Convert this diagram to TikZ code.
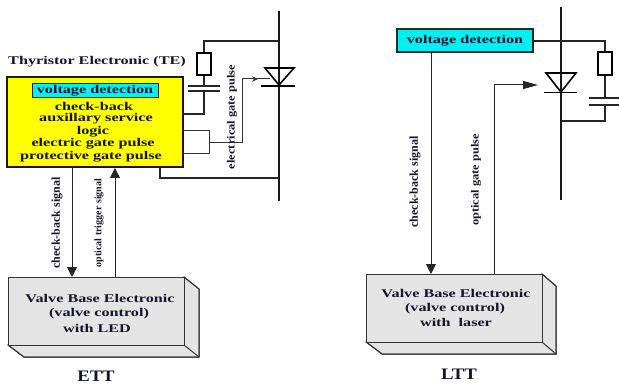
\documentclass[tikz,border=0pt]{standalone}
\usepackage{fontspec}
\usepackage{graphicx}
\setmainfont{Liberation Serif}
\usetikzlibrary{arrows.meta}
\definecolor{inkc}{HTML}{14142E}
\definecolor{boxg}{HTML}{E4E4E4}
\definecolor{cyanb}{HTML}{00F0F0}
\definecolor{yel}{HTML}{FFFF00}
\newcommand{\Wd}[1]{\scalebox{1.37}[1]{#1}}
\tikzset{
 x=1pt,y=-1pt,
 wire/.style={line width=1.4pt,black!85},
 thin wire/.style={line width=1pt,black!80},
 sig/.style={line width=1pt,black!85},
 bigarrow/.style={-{Triangle[length=10pt,width=10pt]}},
 txt/.style={font=\bfseries\fontsize{11.8}{11.8}\selectfont,text=inkc,inner sep=0pt,xscale=1.37},
 vtxt/.style={font=\bfseries\fontsize{12}{12}\selectfont,text=inkc,rotate=90,inner sep=0pt},
 vsmall/.style={font=\bfseries\fontsize{11}{11}\selectfont,text=inkc,rotate=90,inner sep=0pt,xscale=1.13},
 vtrig/.style={font=\bfseries\fontsize{10}{10}\selectfont,text=inkc,rotate=90,inner sep=0pt},
 bigl/.style={font=\bfseries\fontsize{16}{16}\selectfont,text=inkc,inner sep=0pt,xscale=1.17},
 front/.style={draw=black!80,line width=1pt,fill=boxg},
 part/.style={draw=black,line width=1.6pt,fill=white},
 cy/.style={draw=black!85,fill=cyanb,line width=1pt,inner sep=0pt,font=\bfseries\fontsize{11.8}{11.8}\selectfont,text=inkc},
}
\begin{document}
\begin{tikzpicture}
\useasboundingbox (0,0) rectangle (619,385);
% --- ETT ---
\node[txt] (tetitle) at (97,61.5) {Thyristor Electronic (TE)};
\node[draw=black!90,fill=yel,line width=1.6pt,minimum width=176pt,minimum height=90pt,inner sep=0pt] (te) at (95,122) {};
\node[cy,minimum width=126pt,minimum height=14pt] (vd1) at (95,90.5) {\Wd{voltage detection}};
\node[txt] (t1) at (94,106.5) {check-back};
\node[txt] (t2) at (96,119) {auxillary service};
\node[txt] (t3) at (93,131.5) {logic};
\node[txt] (t4) at (93,144) {electric gate pulse};
\node[txt] (t5) at (91,157) {protective gate pulse};
% thyristor branch
\coordinate (b1t) at (279,11); \coordinate (b1b) at (279,201);
\draw[line width=1.8pt,black!90] (b1t) -- (b1b);
\coordinate (r1t) at (204,41);
\coordinate (r1j) at (279,41);
\draw[wire] (r1j) -- (r1t) -- (204,53);
\node[part,minimum width=14pt,minimum height=22pt,inner sep=0pt] (r1) at (204,64) {};
\draw[wire] (r1.south) -- (204,86);
\draw[wire] (188,86) -- (220,86);
\draw[wire] (188,91) -- (220,91);
\coordinate (c1o) at (183,114);
\draw[wire] (204,91) -- (204,114) -- (c1o);
\draw[line width=1.6pt,black] (265,68) -- (294,68) -- (279,85) -- cycle;
\draw[line width=1.6pt,black] (261,86) -- (295,86);
\coordinate (g1) at (270,79);
\coordinate (g1a) at (258,79);
\coordinate (g1b) at (249,79);
\draw[thin wire] (209,143) -- (242,143) -- (242,79) -- (g1);
\draw[thin wire,-{Stealth[length=6pt,width=5.5pt]}] (g1b) -- (g1a);
\draw[thin wire] (183,131) -- (209,131) -- (209,154) -- (183,154);
\draw[wire] (160,168) -- (160,178) -- (279,178);
\node[vsmall] (egp) at (232,117) {electrical gate pulse};
% VBE left
\path[front] (184,277) -- (199,289) -- (199,357) -- (24,357) -- (8,345) -- (184,345) -- cycle;
\draw[front] (184,345) -- (199,357);
\node[front,minimum width=176pt,minimum height=68pt,inner sep=0pt] (vbe1) at (96,311) {};
\draw[front,fill=none] (184,277) -- (199,289) -- (199,357) -- (24,357) -- (8,345);
\node[txt] (v11) at (100,298.5) {Valve Base Electronic};
\node[txt] (v12) at (99,313.5) {(valve control)};
\node[txt] (v13) at (97,328.5) {with LED};
\node[bigl] (ett) at (96,376) {ETT};
\draw[sig,bigarrow] (72,167) -- (72,277);
\draw[sig,bigarrow] (115,277) -- (115,168);
\node[vtxt] (cb1) at (57,223) {check-back signal};
\node[vtrig] (ots) at (99,223) {optical trigger signal};
% --- LTT ---
\coordinate (b2t) at (561,7); \coordinate (b2b) at (561,200);
\draw[line width=1.6pt,black!90] (b2t) -- (b2b);
\node[cy,line width=1.4pt,minimum width=136pt,minimum height=23pt] (vd2) at (465,40.5) {\Wd{voltage detection}};
\draw[wire] (vd2.east |- 0,41) -- (605,41) -- (605,52);
\node[part,minimum width=14pt,minimum height=23pt,inner sep=0pt] (r2) at (605,63.5) {};
\draw[wire] (r2.south) -- (605,98);
\draw[wire] (589,98) -- (619,98);
\draw[wire] (589,105) -- (619,105);
\draw[wire] (605,105) -- (605,121) -- (561,121);
\draw[line width=1.6pt,black] (546,73) -- (576,73) -- (561,92) -- cycle;
\draw[line width=1.6pt,black] (544,92.5) -- (577,92.5);
\coordinate (g2) at (538,85);
\draw[sig,-{Triangle[length=15pt,width=8pt]}] (494,274) -- (494,85) -- (g2);
\draw[sig,bigarrow] (vd2.south -| 431,0) -- (431,274);
\node[vtxt] (cb2) at (415,182) {check-back signal};
\node[vsmall] (ogp) at (476,180) {optical gate pulse};
% VBE right
\path[front] (542,274) -- (556,286) -- (556,354) -- (382,354) -- (366,342) -- (542,342) -- cycle;
\draw[front] (542,342) -- (556,354);
\node[front,minimum width=176pt,minimum height=68pt,inner sep=0pt] (vbe2) at (454,308) {};
\draw[front,fill=none] (542,274) -- (556,286) -- (556,354) -- (382,354) -- (366,342);
\node[txt] (v21) at (456,293) {Valve Base Electronic};
\node[txt] (v22) at (455,308.5) {(valve control)};
\node[txt] (v23) at (456,322) {with~ laser};
\node[bigl] (ltt) at (459,374) {LTT};
\end{tikzpicture}
\end{document}
